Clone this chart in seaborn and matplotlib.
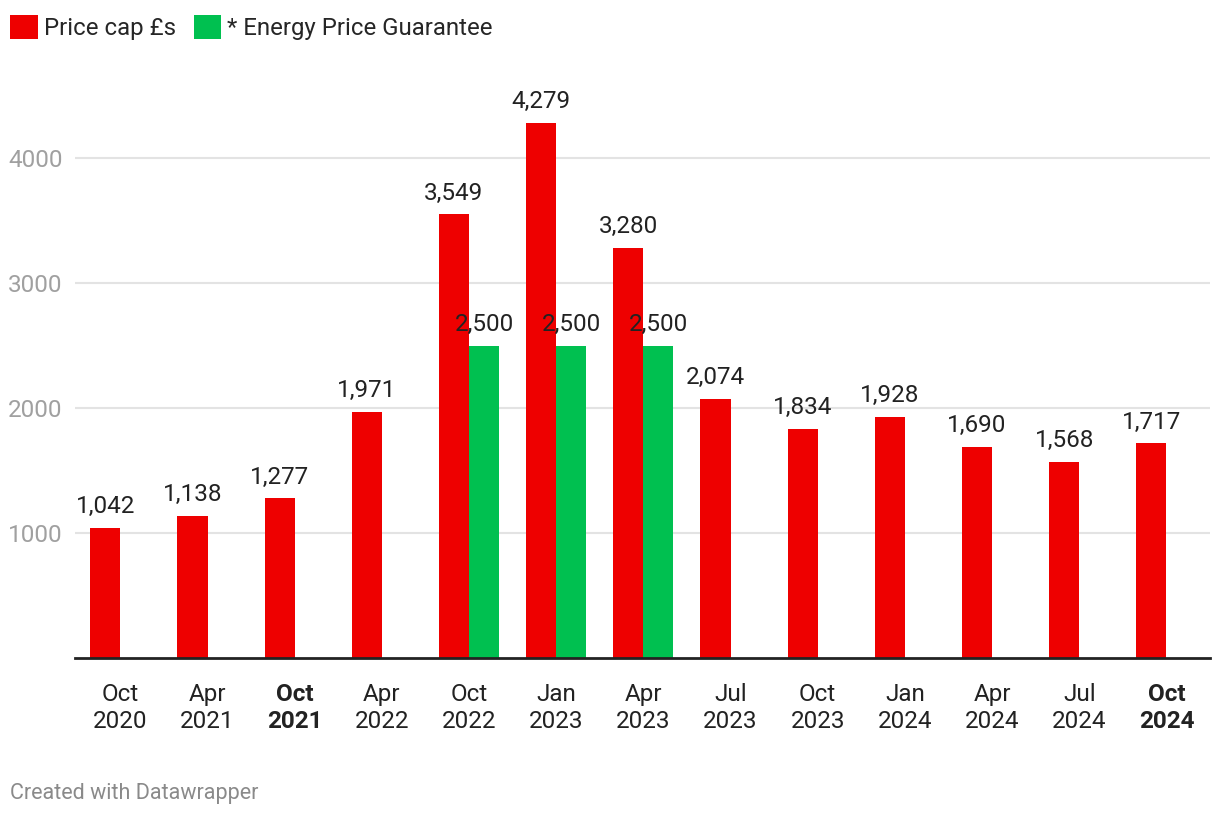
import pandas as pd
import matplotlib.pyplot as plt
import seaborn as sns

# Data
periods = ['Oct\n2020', 'Apr\n2021', 'Oct\n2021', 'Apr\n2022', 'Oct\n2022', 'Jan\n2023', 'Apr\n2023',
           'Jul\n2023', 'Oct\n2023', 'Jan\n2024', 'Apr\n2024', 'Jul\n2024', 'Oct\n2024']
price_cap = [1042, 1138, 1277, 1971, 3549, 4279, 3280, 2074, 1834, 1928, 1690, 1568, 1717]
epg = [None, None, None, None, 2500, 2500, 2500, None, None, None, None, None, None]
bold_periods = ['Oct\n2021', 'Oct\n2024']
series_names = ['Price cap £s', '* Energy Price Guarantee']

# Long format for seaborn
df = pd.DataFrame({
    'Period': periods * 2,
    'Series': [series_names[0]] * len(periods) + [series_names[1]] * len(periods),
    'Value': price_cap + epg,
})
df['Value'] = df['Value'].astype(float)

sns.set_style("white")
plt.rcParams['font.family'] = ['Roboto', 'DejaVu Sans']

fig = plt.figure(figsize=(12.2, 8.18), dpi=100)
ax = fig.add_axes([75 / 1220, 160 / 818, 1135 / 1220, 575 / 818])

sns.barplot(data=df, x='Period', y='Value', hue='Series', order=periods, hue_order=series_names,
            palette=['#ee0000', '#00c050'], width=0.69, saturation=1, errorbar=None,
            linewidth=0, ax=ax)

for cont in ax.containers:
    ax.bar_label(cont, labels=[f'{v:,.0f}' for v in cont.datavalues], padding=7,
                 fontsize=17.5, color='#222222')

ax.set_ylim(0, 4600)
ax.set_xlim(-0.52, 12.5)
ax.set_yticks([1000, 2000, 3000, 4000])
ax.yaxis.grid(True, color='#e3e3e3', linewidth=1.5)
ax.set_axisbelow(True)
ax.tick_params(axis='y', length=0, pad=9, labelsize=17.5, labelcolor='#a0a0a0')
ax.tick_params(axis='x', length=8, width=1.6, color='#222222', pad=10, labelsize=17.5, labelcolor='#222222')
for lbl in ax.get_xticklabels():
    lbl.set_linespacing(1.2)
    if lbl.get_text() in bold_periods:
        lbl.set_fontweight('bold')

for side in ['top', 'right', 'left']:
    ax.spines[side].set_visible(False)
ax.spines['bottom'].set_color('#222222')
ax.spines['bottom'].set_linewidth(2)
ax.set_xlabel('')
ax.set_ylabel('')

sns.move_legend(ax, 'upper left', bbox_to_anchor=(-0.0095, 1.008), bbox_transform=fig.transFigure,
                ncol=2, frameon=False, title=None, fontsize=17.3, handlelength=1.15, handleheight=1.15,
                handletextpad=0.25, columnspacing=0.75)

fig.text(10 / 1220, 1 - 793 / 818, 'Created with Datawrapper', fontsize=15.5, color='#8a8a8a',
         va='center', ha='left')

plt.savefig('out.png', dpi=100)
